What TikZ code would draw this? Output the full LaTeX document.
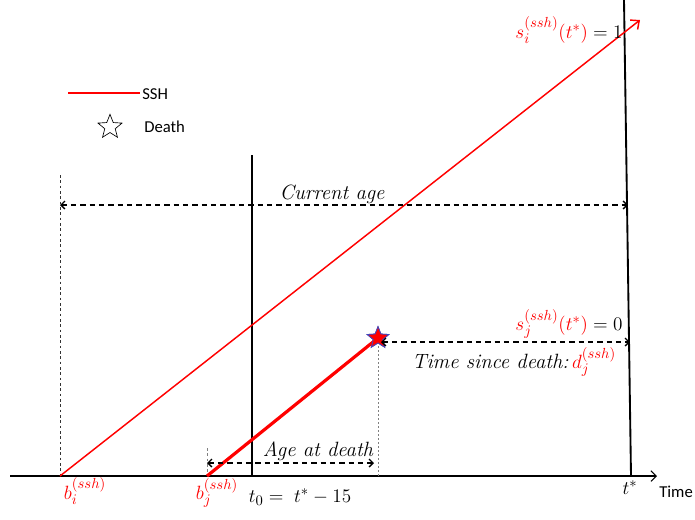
\documentclass[tikz,border=0pt]{standalone}
\usepackage{fontspec}
\newfontfamily\calibri{Carlito}
\usetikzlibrary{shapes.geometric,arrows.meta}
\begin{document}
\begin{tikzpicture}[x=0.75pt,y=-0.75pt,
  redthin/.style={draw=red,line width=1.1pt},
  redthick/.style={draw=red,line width=2.4pt},
  vline/.style={draw=black,line width=1.4pt},
  axisline/.style={draw=black,line width=0.8pt,-{Straight Barb[length=4pt,width=8pt]}},
  dimarrow/.style={draw=black,line width=1pt,dash pattern=on 4pt off 3pt,{Straight Barb[length=3pt,width=6pt]}-{Straight Barb[length=3pt,width=6pt]}},
  guide/.style={draw=gray,line width=0.5pt,dash pattern=on 2pt off 2pt},
  lbl/.style={inner sep=0pt,font=\fontsize{15.5}{18}\selectfont},
  sanslbl/.style={inner sep=0pt,font=\calibri\fontsize{12.5}{15}\selectfont},
  deathstar/.style={star,star points=5,star point ratio=2.3,minimum size=17pt,inner sep=0pt}
]
\useasboundingbox (0,0) rectangle (695,519);

% axis
\coordinate (ax0) at (10,476);
\coordinate (ax1) at (657,476);
\draw[axisline] (ax0) -- (ax1);
\node[sanslbl,anchor=west] (time) at (659,492) {Time};

% vertical lines
\coordinate (ts0) at (624,0);
\coordinate (ts1) at (631,476);
\draw[vline] (ts0) -- (ts1);
\coordinate (tz0) at (252,155);
\coordinate (tz1) at (252,476);
\draw[vline,line width=1.6pt] (tz0) -- (tz1);

% guides
\coordinate (gi0) at (60,175);
\coordinate (bi) at (60,476);
\draw[guide,draw=black!80] (gi0) -- (bi);
\coordinate (gj0) at (207,448);
\coordinate (bj) at (207,476);
\draw[guide] (gj0) -- (bj);
\node[deathstar,fill=red,draw=blue!45!gray,line width=0.6pt] (dstar) at (378,338) {};
\coordinate (gd1) at (378,476);
\draw[guide,dash pattern=on 1.5pt off 1.5pt] (dstar.center) -- (gd1);

% red lines
\coordinate (itop) at (640,20);
\draw[redthin,-{Straight Barb[length=5pt,width=9pt]}] (bi) -- (itop);
\draw[redthick] (bj) -- (dstar.center);
\node[deathstar,fill=red,draw=blue!45!gray,line width=0.6pt] at (dstar) {};

% dimension arrows
\coordinate (ca0) at (60,205);
\coordinate (ca1) at (628,205);
\draw[dimarrow] (ca0) -- (ca1);
\node[lbl] (calbl) at (332,194) {\itshape Current age};

\coordinate (ad0) at (207,463);
\coordinate (ad1) at (374,463);
\draw[dimarrow] (ad0) -- (ad1);
\node[lbl] (adlbl) at (318,451) {\itshape Age at death};

\coordinate (td0) at (381,342);
\coordinate (td1) at (630,342);
\draw[dimarrow] (td0) -- (td1);
\node[lbl] (tdlbl) at (514,362) {\itshape Time since death:\,$\color{red}d_j^{(ssh)}$};

% value labels
\node[lbl] (silbl) at (569,30) {$\color{red}s_i^{(ssh)}(t^*)\color{black}=1$};
\node[lbl] (sjlbl) at (569,324) {$\color{red}s_j^{(ssh)}(t^*)\color{black}=0$};
\node[lbl,text=red] (bilbl) at (85,491) {$b_i^{(ssh)}$};
\node[lbl,text=red] (bjlbl) at (217,493) {$b_j^{(ssh)}$};
\node[lbl] (t0lbl) at (300,497) {$t_0 =\; t^*-15$};
\node[lbl] (tslbl) at (630,488) {$t^*$};

% legend
\coordinate (lg0) at (68,93);
\coordinate (lg1) at (140,93);
\draw[red,line width=2pt] (lg0) -- (lg1);
\node[sanslbl,anchor=west] (ssh) at (142,94) {SSH};
\node[deathstar,draw=black,line width=0.5pt,minimum size=19pt] (lgstar) at (110,127) {};
\node[sanslbl,anchor=west] (death) at (144,127) {Death};
\end{tikzpicture}
\end{document}
